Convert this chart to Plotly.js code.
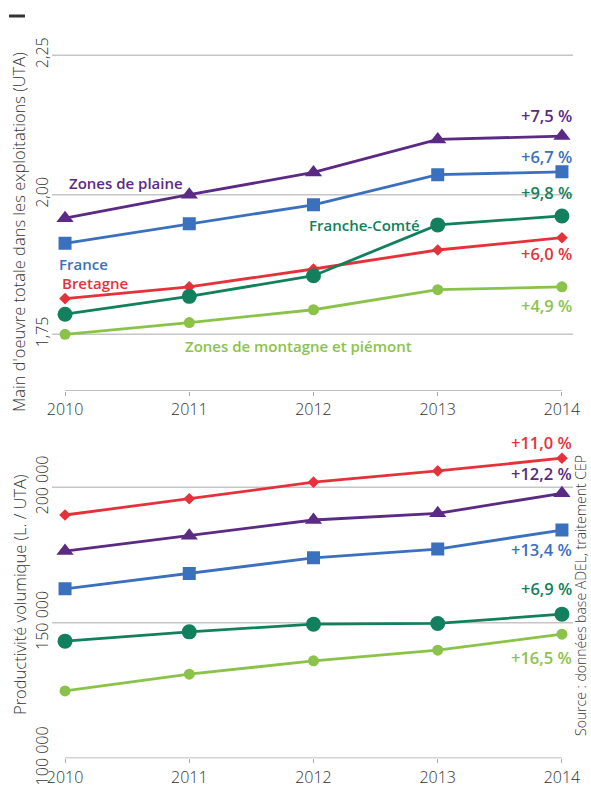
<!DOCTYPE html>
<html>
<head>
<meta charset="utf-8">
<script src="https://cdn.plot.ly/plotly-3.0.1.min.js"></script>
<style>html,body{margin:0;padding:0;background:#fff;}#chart{width:591px;height:786px;}</style>
</head>
<body>
<div id="chart"></div>
<script>
// ---- DATA ----
const years = [2010, 2011, 2012, 2013, 2014];
const yearLabels = ['2010', '2011', '2012', '2013', '2014'];

// Main d'oeuvre totale (UTA)
const utaPlaine   = [1.958, 2.000, 2.040, 2.099, 2.105];
const utaFrance   = [1.913, 1.948, 1.982, 2.036, 2.041];
const utaBretagne = [1.814, 1.835, 1.867, 1.901, 1.923];
const utaFC       = [1.786, 1.818, 1.855, 1.946, 1.962];
const utaMontagne = [1.750, 1.771, 1.794, 1.830, 1.835];
const utaTicks = [1.75, 2.00, 2.25];
const utaTickText = ['1,75', '2,00', '2,25'];

// Productivité volumique (L. / UTA)
const prodBretagne = [189800, 195800, 201900, 206050, 210750];
const prodPlaine   = [176500, 182150, 187950, 190400, 197800];
const prodFrance   = [162550, 168250, 174000, 177230, 184250];
const prodFC       = [143240, 146680, 149520, 149780, 153200];
const prodMontagne = [124870, 131050, 135960, 139900, 145830];
const prodTicks = [100000, 150000, 200000];
const prodTickText = ['100 000', '150 000', '200 000'];
const prodGrid = [150000, 200000];

const seriesNames = ['Zones de plaine', 'France', 'Bretagne', 'Franche-Comté', 'Zones de montagne et piémont'];
const pctTop    = ['+7,5 %', '+6,7 %', '+6,0 %', '+9,8 %', '+4,9 %'];
const pctBottom = ['+12,2 %', '+13,4 %', '+11,0 %', '+6,9 %', '+16,5 %'];

// ---- STYLE ----
const W = 591, H = 786;
const px = x => x / W;
const py = y => 1 - y / H;
const C = {plaine:'#5b2a84', france:'#3a70bd', bretagne:'#e5323a', fc:'#12805c', montagne:'#8bc34a'};
const FONT = '"Open Sans", "Noto Sans", sans-serif';
const topRange = [1.649, 2.27];
const botRange = [100000, 217000];
const xRange = [2009.895, 2014.089];

function tr(y, color, symbol, size, xa, ya, name) {
  return {x: years, y: y, type: 'scatter', mode: 'lines+markers', name: name,
    xaxis: xa, yaxis: ya, showlegend: false, hoverinfo: 'skip',
    line: {color: color, width: 2.8},
    marker: {color: color, symbol: symbol, size: size}};
}

const data = [
  tr(utaMontagne, C.montagne, 'circle', 11, 'x', 'y', seriesNames[4]),
  tr(utaBretagne, C.bretagne, 'diamond', 9, 'x', 'y', seriesNames[2]),
  tr(utaFC, C.fc, 'circle', 15, 'x', 'y', seriesNames[3]),
  tr(utaFrance, C.france, 'square', 13, 'x', 'y', seriesNames[1]),
  tr(utaPlaine, C.plaine, 'triangle-up', 15, 'x', 'y', seriesNames[0]),
  tr(prodMontagne, C.montagne, 'circle', 11, 'x2', 'y2', seriesNames[4]),
  tr(prodFC, C.fc, 'circle', 15, 'x2', 'y2', seriesNames[3]),
  tr(prodFrance, C.france, 'square', 13, 'x2', 'y2', seriesNames[1]),
  tr(prodPlaine, C.plaine, 'triangle-up', 15, 'x2', 'y2', seriesNames[0]),
  tr(prodBretagne, C.bretagne, 'diamond', 9, 'x2', 'y2', seriesNames[2])
];

const xCommon = {range: xRange, tickvals: years, ticktext: yearLabels, showgrid: false,
  showline: false, zeroline: false, ticks: 'outside', ticklen: 4, tickwidth: 1, tickcolor: '#aaa',
  tickfont: {family: FONT, size: 16, color: '#333', weight: 300}, fixedrange: true};
const yCommon = {showgrid: false, showline: false, zeroline: false, ticks: '', tickangle: -90,
  tickfont: {family: FONT, size: 16, color: '#333', weight: 300}, fixedrange: true};

const gridStyle = {color: '#c6c6c6', width: 1.5};
const shapes = [];
utaTicks.forEach(v => shapes.push({type: 'line', xref: 'paper', yref: 'y', x0: px(52), x1: px(573), y0: v, y1: v, line: gridStyle, layer: 'below'}));
prodGrid.forEach(v => shapes.push({type: 'line', xref: 'paper', yref: 'y2', x0: px(52), x1: px(573), y0: v, y1: v, line: gridStyle, layer: 'below'}));
shapes.push({type: 'line', xref: 'x', yref: 'y', x0: years[0], x1: years[years.length-1], y0: topRange[0], y1: topRange[0], line: {color: '#aaa', width: 1.5}});
shapes.push({type: 'line', xref: 'x2', yref: 'y2', x0: years[0], x1: years[years.length-1], y0: botRange[0], y1: botRange[0], line: {color: '#aaa', width: 1.5}});
shapes.push({type: 'line', xref: 'paper', yref: 'paper', x0: px(9), x1: px(25), y0: py(16), y1: py(16), line: {color: '#333', width: 3}});

function lab(text, x, y, color, anchor, size) {
  return {text: text, xref: 'paper', yref: 'paper', x: px(x), y: py(y), xanchor: anchor, yanchor: 'middle',
    showarrow: false, font: {family: FONT, size: size, color: color, weight: 600}};
}
const annotations = [
  lab(seriesNames[0], 67, 183, C.plaine, 'left', 15),
  lab(seriesNames[1], 57, 264, C.france, 'left', 15),
  lab(seriesNames[2], 60, 283, C.bretagne, 'left', 15),
  lab(seriesNames[3], 307, 225, C.fc, 'left', 15),
  lab(seriesNames[4], 183, 346, C.montagne, 'left', 15),
  lab(pctTop[0], 574, 116, C.plaine, 'right', 16.5),
  lab(pctTop[1], 574, 156, C.france, 'right', 16.5),
  lab(pctTop[3], 574, 193, C.fc, 'right', 16.5),
  lab(pctTop[2], 574, 253, C.bretagne, 'right', 16.5),
  lab(pctTop[4], 574, 305, C.montagne, 'right', 16.5),
  lab(pctBottom[2], 574, 442, C.bretagne, 'right', 16.5),
  lab(pctBottom[0], 574, 473, C.plaine, 'right', 16.5),
  lab(pctBottom[1], 574, 549, C.france, 'right', 16.5),
  lab(pctBottom[3], 574, 588, C.fc, 'right', 16.5),
  lab(pctBottom[4], 574, 657, C.montagne, 'right', 16.5),
  {text: "Main d'oeuvre totale dans les exploitations (UTA)", xref: 'paper', yref: 'paper', x: px(19), y: py(232),
    xanchor: 'center', yanchor: 'middle', textangle: -90, showarrow: false,
    font: {family: FONT, size: 16.5, color: '#333', weight: 300}},
  {text: 'Productivité volumique (L. / UTA)', xref: 'paper', yref: 'paper', x: px(19), y: py(595),
    xanchor: 'center', yanchor: 'middle', textangle: -90, showarrow: false,
    font: {family: FONT, size: 16.5, color: '#333', weight: 300}},
  {text: 'Source : données base ADEL, traitement CEP', xref: 'paper', yref: 'paper', x: px(580), y: py(596),
    xanchor: 'center', yanchor: 'middle', textangle: -90, showarrow: false,
    font: {family: FONT, size: 14, color: '#333', weight: 300}}
];

const layout = {
  width: W, height: H, margin: {l: 0, r: 0, t: 0, b: 0},
  paper_bgcolor: '#fff', plot_bgcolor: 'rgba(0,0,0,0)',
  showlegend: false,
  xaxis: Object.assign({}, xCommon, {domain: [px(52), px(573)], anchor: 'y'}),
  xaxis2: Object.assign({}, xCommon, {domain: [px(52), px(573)], anchor: 'y2'}),
  yaxis: Object.assign({}, yCommon, {domain: [py(390.7), py(44)], range: topRange, tickvals: utaTicks, ticktext: utaTickText, anchor: 'x'}),
  yaxis2: Object.assign({}, yCommon, {domain: [py(758.3), py(441.3)], range: botRange, tickvals: prodTicks, ticktext: prodTickText, anchor: 'x2'}),
  shapes: shapes,
  annotations: annotations
};

Plotly.newPlot('chart', data, layout, {displayModeBar: false, staticPlot: true});
</script>
</body>
</html>
